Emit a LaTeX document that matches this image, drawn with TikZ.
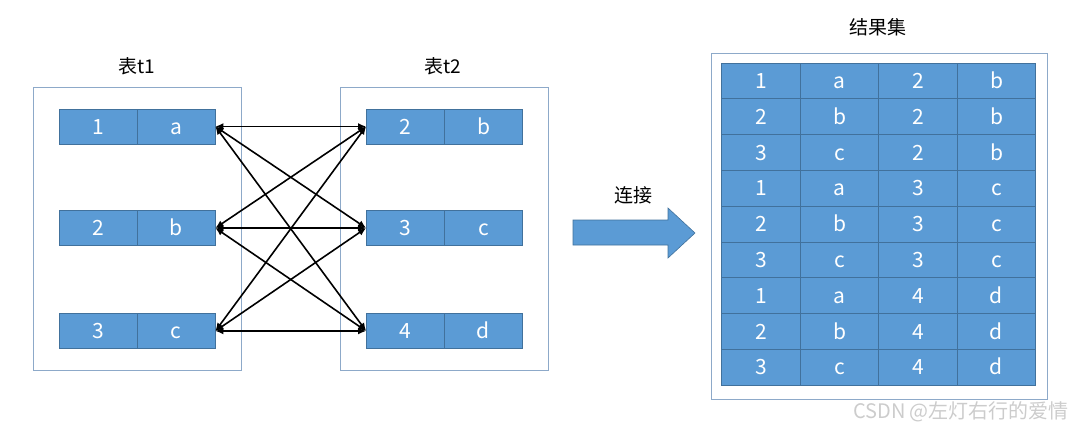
\documentclass[tikz,border=0pt]{standalone}
\usepackage{fontspec}
\setmainfont{Noto Sans CJK SC}
\newfontfamily\cjk{Noto Sans CJK SC}
\usetikzlibrary{arrows.meta}
\definecolor{cellblue}{HTML}{5B9BD5}
\definecolor{celledge}{HTML}{41719C}
\definecolor{boxedge}{HTML}{8DA9C9}
\begin{document}
\begin{tikzpicture}[x=1pt,y=-1pt,
  cell/.style={draw=celledge,fill=cellblue,line width=0.8pt,text=white,minimum width=78pt,minimum height=35pt,inner sep=0pt,text height=15pt,text depth=0pt,font=\cjk\fontsize{21}{21}\selectfont},
  rcell/.style={cell,minimum width=78.5pt,minimum height=35.8pt},
  frame/.style={draw=boxedge,line width=1pt},
  title/.style={font=\cjk\fontsize{19}{19}\selectfont,text=black},
  link/.style={line width=1.6pt,{Latex[length=8pt,width=7pt]}-{Latex[length=8pt,width=7pt]}}]
\useasboundingbox (0,0) rectangle (1077,431);
% frames
\node[frame,minimum width=208pt,minimum height=283pt,inner sep=0pt] (box1) at (137,228.5) {};
\node[frame,minimum width=208pt,minimum height=283pt,inner sep=0pt] (box2) at (444,228.5) {};
\node[frame,minimum width=336pt,minimum height=346pt,inner sep=0pt] (box3) at (879,226) {};
\node[title] (lt1) at (137,66) {表t1};
\node[title] (lt2) at (443,66) {表t2};
\node[title] (lres) at (878,27) {结果集};
% table t1
\foreach \i/\y/\a/\b in {1/126.5/1/a,2/228/2/b,3/331/3/c}{
  \node[cell] (a\i) at (98,\y) {\a};
  \node[cell] (b\i) at (176,\y) {\b};
}
% table t2
\foreach \i/\y/\a/\b in {1/126.5/2/b,2/228/3/c,3/331/4/d}{
  \node[cell] (c\i) at (405.5,\y) {\a};
  \node[cell] (d\i) at (483.5,\y) {\b};
}
% links
\foreach \i in {1,2,3}{
  \foreach \j in {1,2,3}{
    \draw[link] (b\i.east) -- (c\j.west);
  }
}
% big arrow
\draw[draw=celledge,fill=cellblue,line width=0.6pt] (573,220) -- (668,220) -- (668,208) -- (695,233) -- (668,258) -- (668,245) -- (573,245) -- cycle;
\coordinate (bigarrow) at (634,233);
\node[title] (ljoin) at (633,195) {连接};
% result table
\foreach \r/\p/\q/\s [count=\k] in {1/a/2/b,2/b/2/b,3/c/2/b,1/a/3/c,2/b/3/c,3/c/3/c,1/a/4/d,2/b/4/d,3/c/4/d}{
  \pgfmathsetmacro{\yy}{63+35.8*(\k-0.5)}
  \node[rcell] (r\k a) at (761,\yy) {\r};
  \node[rcell] (r\k b) at (839.5,\yy) {\p};
  \node[rcell] (r\k c) at (918,\yy) {\q};
  \node[rcell] (r\k d) at (996.5,\yy) {\s};
}
\node[font=\cjk\fontsize{20}{20}\selectfont,text=black!20] (wm) at (961,412) {CSDN @左灯右行的爱情};
\end{tikzpicture}
\end{document}
